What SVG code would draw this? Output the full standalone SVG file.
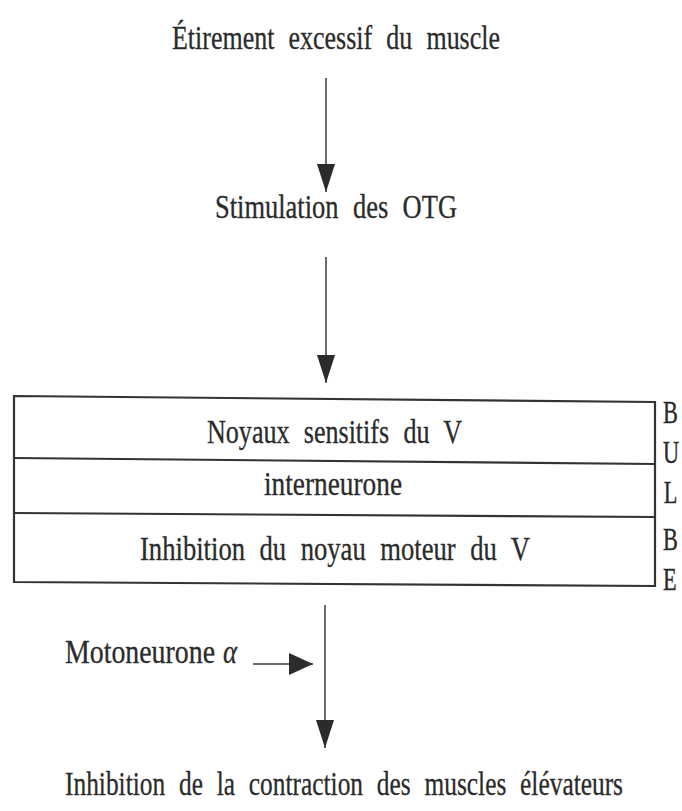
<svg xmlns="http://www.w3.org/2000/svg" width="682" height="811" viewBox="0 0 682 811">
<style>
  .t { font-family: "Liberation Serif", "Times New Roman", serif; font-size: 34px; fill: #2b2b2b; stroke: #2b2b2b; stroke-width: 0.3px; word-spacing: 10px; }
  .side { font-family: "Liberation Serif", "Times New Roman", serif; font-size: 31px; fill: #2b2b2b; stroke: #2b2b2b; stroke-width: 0.4px; }
  .box { fill: none; stroke: #333; stroke-width: 2.2; }
  .edge { fill: none; stroke: #3a3a3a; stroke-width: 1.5; }
</style>
<defs>
  <marker id="ah" markerUnits="userSpaceOnUse" markerWidth="28" markerHeight="18" refX="28" refY="9" orient="auto">
    <path d="M0,0 L28,9 L0,18 Z" fill="#2b2b2b"/>
  </marker>
  <marker id="ah2" markerUnits="userSpaceOnUse" markerWidth="24" markerHeight="22" refX="24" refY="11" orient="auto">
    <path d="M0,0 L24,11 L0,22 Z" fill="#2b2b2b"/>
  </marker>
</defs>
<rect width="682" height="811" fill="#fff"/>

<g id="n-title">
  <text class="t" transform="translate(172,49) scale(0.8,1)" textLength="410" lengthAdjust="spacingAndGlyphs">Étirement excessif du muscle</text>
</g>

<g id="n-stim">
  <text class="t" transform="translate(215,218) scale(0.8,1)" textLength="302.5" lengthAdjust="spacingAndGlyphs">Stimulation des OTG</text>
</g>

<g id="n-bulbe">
  <path class="box" d="M14,396 L655,402 L655,586 L14,582 Z"/>
  <path class="box" d="M14,458 L655,464"/>
  <path class="box" d="M14,513 L655,517"/>
  <g id="n-noyaux">
    <text class="t" transform="translate(207,443) scale(0.8,1)" textLength="318.75" lengthAdjust="spacingAndGlyphs">Noyaux sensitifs du V</text>
  </g>
  <g id="n-inter">
    <text class="t" transform="translate(264,495) scale(0.8,1)" textLength="172.5" lengthAdjust="spacingAndGlyphs">interneurone</text>
  </g>
  <g id="n-inhib">
    <text class="t" transform="translate(140,560) scale(0.8,1)" textLength="487.5" lengthAdjust="spacingAndGlyphs">Inhibition du noyau moteur du V</text>
  </g>
  <g id="n-label" transform="translate(663,0) scale(0.72,1)">
    <text class="side" x="0" y="423">B</text>
    <text class="side" x="0" y="463">U</text>
    <text class="side" x="1" y="503">L</text>
    <text class="side" x="0" y="550">B</text>
    <text class="side" x="0" y="590">E</text>
  </g>
</g>

<g id="n-moto">
  <text class="t" transform="translate(65,663) scale(0.8,1)" textLength="187.5" lengthAdjust="spacingAndGlyphs">Motoneurone</text>
  <text class="t" transform="translate(223,663) scale(0.8,1)" font-style="italic" textLength="17.5" lengthAdjust="spacingAndGlyphs">α</text>
</g>

<g id="n-result">
  <text class="t" transform="translate(65,795) scale(0.75,1)" textLength="744" lengthAdjust="spacingAndGlyphs">Inhibition de la contraction des muscles élévateurs</text>
</g>

<g id="connectors">
  <line class="edge" x1="326" y1="78" x2="326" y2="192" marker-end="url(#ah)"/>
  <line class="edge" x1="326" y1="257" x2="326" y2="383" marker-end="url(#ah)"/>
  <line class="edge" x1="325" y1="605" x2="325" y2="748" marker-end="url(#ah)"/>
  <line class="edge" x1="253" y1="664" x2="313" y2="664" stroke-width="2" marker-end="url(#ah2)"/>
</g>
</svg>
